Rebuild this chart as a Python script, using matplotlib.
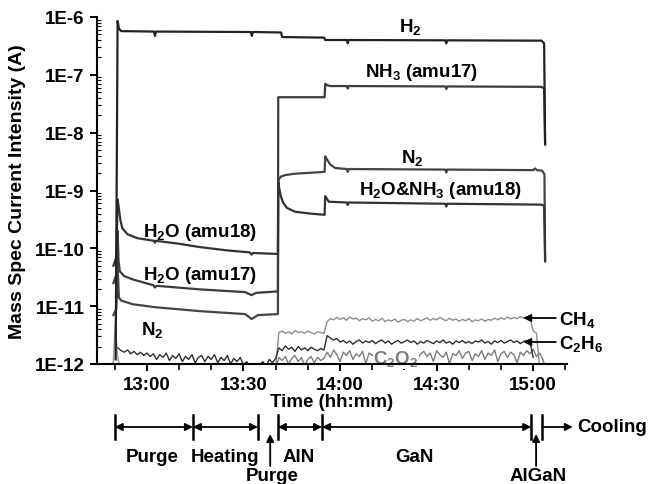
import numpy as np
import matplotlib
matplotlib.use('Agg')
import matplotlib.pyplot as plt
from matplotlib import transforms
from matplotlib.ticker import FuncFormatter, MultipleLocator, LogLocator, NullFormatter

plt.rcParams['font.family'] = ['Liberation Sans', 'DejaVu Sans']
plt.rcParams['font.weight'] = 'bold'
plt.rcParams['mathtext.fontset'] = 'custom'
plt.rcParams['mathtext.rm'] = 'Liberation Sans:bold'
plt.rcParams['mathtext.it'] = 'Liberation Sans:bold'
plt.rcParams['mathtext.bf'] = 'Liberation Sans:bold'

FS = 13.5

# time in minutes after 12:00
h2_t = [50.3, 50.9, 51.3, 52.0, 62.2, 62.5, 62.8, 92.3, 92.6, 92.9, 101.7, 102.0,
        115.1, 115.4, 122.1, 122.4, 122.7, 152.7, 153.0, 153.3, 182.6, 183.4, 183.7]
h2 = [1.2e-12, 8.5e-7, 6.3e-7, 5.7e-7, 5.6e-7, 4.7e-7, 5.6e-7, 5.5e-7, 4.7e-7, 5.5e-7,
      5.4e-7, 4.5e-7, 4.4e-7, 4.0e-7, 4.0e-7, 3.5e-7, 4.0e-7, 3.95e-7, 3.5e-7, 3.95e-7,
      3.9e-7, 3.5e-7, 6.3e-9]

# amu17: H2O before growth, NH3 after
amu17_t = [49.6, 50.5, 50.9, 51.2, 51.6, 53.0, 55.6, 62.0, 62.5, 63.0, 76.5, 90.5,
           92.5, 94.0, 100.7, 100.8, 115.2, 115.4, 116.0, 117.0, 122.1, 122.4, 122.7,
           152.7, 153.0, 153.3, 182.6, 183.4, 183.7]
amu17 = [2.5e-11, 3.5e-11, 2.0e-10, 6.0e-11, 4.0e-11, 3.3e-11, 2.9e-11, 2.3e-11, 2.1e-11,
         2.25e-11, 1.95e-11, 1.75e-11, 1.55e-11, 1.7e-11, 1.8e-11, 4.1e-8, 4.1e-8, 7.0e-8,
         6.6e-8, 6.4e-8, 6.4e-8, 5.8e-8, 6.4e-8, 6.3e-8, 5.7e-8, 6.3e-8, 6.2e-8, 5.8e-8, 6.3e-9]

# amu18: H2O before growth, H2O & NH3 after
amu18_t = [49.6, 50.5, 50.9, 51.3, 51.8, 52.4, 54.0, 57.0, 62.2, 62.5, 62.8, 70.0, 76.5,
           85.0, 92.0, 92.5, 93.0, 100.7, 100.8, 101.1, 101.6, 102.3, 103.5, 106.0, 110.5,
           115.2, 115.4, 116.5, 122.1, 122.4, 122.7, 152.7, 153.0, 153.3, 182.6, 183.4, 183.7]
amu18 = [5e-11, 7e-11, 7e-10, 4.9e-10, 3.0e-10, 2.2e-10, 1.75e-10, 1.5e-10, 1.35e-10,
         1.25e-10, 1.35e-10, 1.2e-10, 1.05e-10, 9.2e-11, 8.5e-11, 7.8e-11, 8.3e-11, 8.0e-11,
         1.4e-9, 1.1e-9, 8.0e-10, 6.2e-10, 5.0e-10, 4.3e-10, 4.0e-10, 3.8e-10, 8.0e-10,
         6.4e-10, 6.2e-10, 5.6e-10, 6.2e-10, 5.9e-10, 5.3e-10, 5.9e-10, 5.7e-10, 5.4e-10, 6e-11]

n2_t = [49.6, 50.5, 50.9, 51.3, 52.0, 55.6, 62.5, 76.5, 90.5, 92.5, 94.5, 100.7, 100.8,
        101.1, 101.7, 103.0, 106.0, 115.2, 115.4, 116.0, 117.0, 118.5, 122.1, 122.4, 122.7,
        152.7, 153.0, 153.3, 180.0, 180.6, 181.2, 182.8, 183.5, 183.7]
n2 = [7e-12, 9e-12, 5e-11, 1.4e-11, 1.25e-11, 1.08e-11, 9.6e-12, 8.2e-12, 7.3e-12, 6.0e-12,
      7.0e-12, 7.3e-12, 1.4e-9, 1.6e-9, 1.75e-9, 1.85e-9, 1.95e-9, 2.1e-9, 3.9e-9, 3.4e-9,
      2.8e-9, 2.45e-9, 2.35e-9, 2.1e-9, 2.35e-9, 2.3e-9, 2.05e-9, 2.3e-9, 2.25e-9, 2.4e-9,
      2.25e-9, 2.2e-9, 1.9e-9, 6e-11]

# low-level signals, in units of 1E-12 A, one reading per minute
c2h6_t = np.arange(51, 181)
c2h6 = [1.9, 1.7, 1.6, 1.75, 1.5, 1.65, 1.45, 1.6, 1.4, 1.55,
        1.35, 1.5, 1.2, 1.45, 1.3, 1.55, 1.15, 1.4, 1.25, 1.5,
        1.1, 1.35, 1.2, 1.45, 1.05, 1.3, 1.4, 1.1, 1.35, 1.2,
        1.45, 1.05, 1.3, 1.15, 1.4, 1.0, 1.25, 1.1, 1.3, 0.95,
        1.1, 0.9, 1.0, 0.85, 0.95, 1.1, 0.9, 1.2, 1.05, 1.25,
        1.9, 1.7, 2.05, 1.8, 1.95, 1.65, 2.0, 1.75, 1.9, 1.7,
        1.95, 1.8, 1.7, 1.85, 1.75, 3.1, 2.8, 2.6, 2.75, 2.4,
        2.55, 2.3, 2.5, 2.2, 2.45, 2.6, 2.3, 2.5, 2.35, 2.55,
        2.25, 2.45, 2.6, 2.3, 2.5, 2.2, 2.4, 2.55, 2.3, 2.45,
        2.6, 2.35, 2.5, 2.2, 2.45, 2.3, 2.55, 2.4, 2.25, 2.5,
        2.35, 2.6, 2.3, 2.45, 2.2, 2.5, 2.35, 2.55, 2.3, 2.45,
        2.25, 2.5, 2.4, 2.6, 2.3, 2.45, 2.2, 2.5, 2.35, 2.55,
        2.3, 2.45, 2.6, 2.35, 2.5, 2.25, 2.45, 2.55, 2.4, 1.3]

ch4_start_t = [49.5, 50.2, 50.8, 51.5]
ch4_start = [0.9, 5.3, 1.5, 0.9]
ch4_t = np.arange(100, 184)
ch4 = [0.9,
       3.5, 3.7, 3.4, 3.6, 3.3, 3.8, 3.5, 3.6, 3.4, 3.7, 3.5, 3.3, 3.6, 3.5, 3.4,
       5.4, 6.1, 5.8, 6.4, 5.9, 6.3, 5.7, 6.5, 6.0, 6.2,
       5.6, 6.1, 5.8, 6.3, 5.5, 5.9, 5.6, 6.2, 5.4, 5.8,
       5.5, 6.0, 5.3, 5.7, 5.9, 5.4, 5.8, 5.5, 6.1, 5.6,
       5.9, 6.3, 5.7, 6.1, 5.8, 6.4, 5.9, 5.6, 6.2, 5.7,
       6.0, 5.5, 5.9, 5.6, 6.1, 5.4, 5.8, 5.6, 6.0, 5.5,
       5.9, 5.7, 6.2, 5.8, 6.3, 5.9, 6.5, 6.0, 6.4, 6.1,
       6.6, 6.2, 6.5, 6.3, 3.7, 3.4, 0.9, 0.8]

c2o2_t = np.arange(100, 185)
c2o2 = [0.8,
        1.3, 1.15, 1.35, 1.0, 1.25, 1.4, 1.1, 1.3, 0.95, 1.2, 1.35, 1.05, 1.3, 1.15, 1.25,
        1.6, 1.3, 1.75, 1.45, 1.1, 1.6, 1.4, 1.7, 1.2, 1.5,
        1.35, 1.65, 1.0, 1.55, 1.4, 1.7, 1.25, 1.5, 1.6, 1.15,
        1.45, 1.7, 1.3, 1.55, 1.05, 1.6, 1.4, 1.75, 1.2, 1.5,
        1.65, 1.35, 1.55, 1.1, 1.7, 1.45, 1.3, 1.6, 1.0, 1.5,
        1.4, 1.7, 1.25, 1.55, 1.65, 1.15, 1.5, 1.35, 1.7, 1.2,
        1.55, 1.4, 1.75, 1.1, 1.5, 1.65, 1.3, 1.6, 1.45, 1.05,
        1.6, 1.4, 1.7, 1.5, 1.8, 1.35, 1.55, 1.2, 0.8]

# process steps along the time axis
step_bounds = [50.0, 74.3, 94.5, 100.7, 114.4, 179.4, 182.8]
step_names = ['Purge', 'Heating', 'AlN', 'GaN']
step_centers = [61.7, 84.2, 107.2, 143.0]

fig = plt.figure(figsize=(6.48, 4.85), dpi=100)
ax = fig.add_axes([97 / 648, 1 - 365 / 485, 470 / 648, 347 / 485])

pA = 1e-12
ax.plot(ch4_start_t, np.array(ch4_start) * pA, color='#9a9a9a', lw=1.0)
ax.plot(c2o2_t, np.array(c2o2) * pA, color='#7c7c7c', lw=1.0)
ax.plot(ch4_t, np.array(ch4) * pA, color='#8e8e8e', lw=1.0)
ax.plot(c2h6_t, np.array(c2h6) * pA, color='#2e2e2e', lw=1.0)

ax.plot(n2_t, n2, color='#444444', lw=1.6)
ax.plot(amu17_t, amu17, color='#3c3c3c', lw=1.6)
ax.plot(amu18_t, amu18, color='#333333', lw=1.6)
ax.plot(h2_t, h2, color='#222222', lw=1.6)

ax.set_yscale('log')
ax.set_ylim(1e-12, 1e-6)
ax.set_xlim(44.5, 190.5)

ax.yaxis.set_major_locator(LogLocator(base=10, numticks=10))
ax.yaxis.set_minor_locator(LogLocator(base=10, subs=np.arange(2, 10), numticks=10))
ax.yaxis.set_minor_formatter(NullFormatter())
ax.yaxis.set_major_formatter(FuncFormatter(lambda v, p: f"1E{int(round(np.log10(v)))}"))
ax.xaxis.set_major_locator(MultipleLocator(30))
ax.xaxis.set_minor_locator(MultipleLocator(10))
ax.xaxis.set_major_formatter(FuncFormatter(lambda v, p: f"{12 + int(v // 60)}:{int(v % 60):02d}"))

for s in ['top', 'right']:
    ax.spines[s].set_visible(False)
for s in ['left', 'bottom']:
    ax.spines[s].set_linewidth(1.5)
ax.tick_params(which='major', direction='out', length=5, width=1.4, labelsize=FS, pad=4)
ax.tick_params(axis='y', which='minor', direction='in', length=3, width=0.8)
ax.tick_params(axis='x', which='minor', direction='out', length=4, width=1.2)
for lab in ax.get_xticklabels() + ax.get_yticklabels():
    lab.set_fontweight('bold')

ax.set_ylabel('Mass Spec Current Intensity (A)', fontsize=14, fontweight='bold', labelpad=6)
ax.set_xlabel('Time (hh:mm)', fontsize=FS, fontweight='bold', labelpad=0)

# curve labels
txt = dict(fontsize=FS, fontweight='bold', ha='center', va='baseline')
ax.text(141.75, 5.7e-7, 'H$_2$', **txt)
ax.text(145.2, 9.5e-8, 'NH$_3$ (amu17)', **txt)
ax.text(142.4, 3.1e-9, 'N$_2$', **txt)
ax.text(151.1, 8.7e-10, 'H$_2$O&NH$_3$ (amu18)', **txt)
ax.text(76.5, 1.63e-10, 'H$_2$O (amu18)', **txt)
ax.text(76.5, 2.95e-11, 'H$_2$O (amu17)', **txt)
ax.text(61.6, 3.3e-12, 'N$_2$', **txt)
# sits over the noise traces but under the axis line
ax.text(137.4, 1.04e-12, 'C$_2$O$_2$', fontsize=FS, color='#7c7c7c', ha='center',
        va='baseline', zorder=2.2, clip_on=False,
        bbox=dict(facecolor='white', edgecolor='none', pad=0.5))

# bottom row: process steps, in data time and figure pixel rows
trans = transforms.blended_transform_factory(ax.transData, fig.transFigure)
def fy(py):
    return 1 - py / 485

for b in step_bounds:
    ax.plot([b, b], [fy(416), fy(440)], transform=trans, color='black', lw=1.8, clip_on=False)

arrow2 = dict(arrowstyle='<|-|>', color='black', lw=1.3, mutation_scale=11, shrinkA=0, shrinkB=0)
for a, b in [(0, 1), (1, 2), (3, 4), (4, 5)]:
    ax.annotate('', xy=(step_bounds[b], fy(428)), xytext=(step_bounds[a], fy(428)),
                xycoords=trans, textcoords=trans, arrowprops=arrow2, annotation_clip=False)
for name, c in zip(step_names, step_centers):
    ax.text(c, fy(462), name, transform=trans, fontsize=FS, fontweight='bold',
            ha='center', va='baseline')

arrow1 = dict(arrowstyle='-|>', color='black', lw=1.3, mutation_scale=11, shrinkA=0, shrinkB=0)
for t_up, name in [(98.3, 'Purge'), (180.9, 'AlGaN')]:
    ax.annotate('', xy=(t_up, fy(435)), xytext=(t_up, fy(467)), xycoords=trans,
                textcoords=trans, arrowprops=arrow1, annotation_clip=False)
    ax.text(t_up + 0.6, fy(481), name, transform=trans, fontsize=FS, fontweight='bold',
            ha='center', va='baseline')

ax.annotate('', xy=(192.3, fy(428)), xytext=(step_bounds[-1], fy(428)), xycoords=trans,
            textcoords=trans, arrowprops=arrow1, annotation_clip=False)
ax.text(193.6, fy(428), 'Cooling', transform=trans, fontsize=FS, fontweight='bold',
        ha='left', va='center')

# arrows naming the hydrocarbon traces
for py, name in [(319, 'CH$_4$'), (343, 'C$_2$H$_6$')]:
    ax.annotate('', xy=(176.9, fy(py)), xytext=(187.0, fy(py)), xycoords=trans,
                textcoords=trans, arrowprops=arrow1, annotation_clip=False)
    ax.text(188.0, fy(py + 6), name, transform=trans, fontsize=FS, fontweight='bold',
            ha='left', va='baseline')

fig.savefig('out.png', dpi=100)
